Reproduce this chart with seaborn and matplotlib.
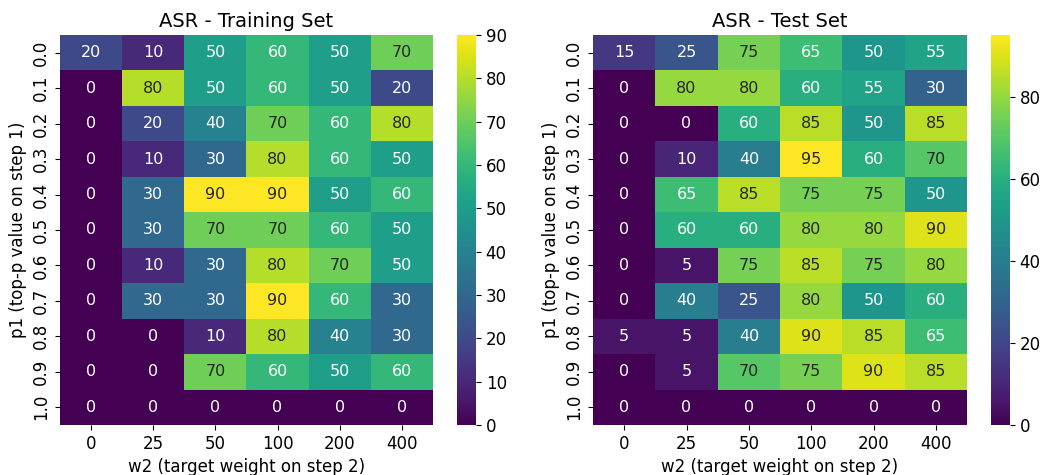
import numpy as np
import pandas as pd
import matplotlib
matplotlib.use("Agg")
import matplotlib.pyplot as plt
import seaborn as sns

# axis categories
p1_values = ["0.0", "0.1", "0.2", "0.3", "0.4", "0.5", "0.6", "0.7", "0.8", "0.9", "1.0"]
w2_values = ["0", "25", "50", "100", "200", "400"]

# ASR values (%)
asr_train = [
    [20, 10, 50, 60, 50, 70],
    [0, 80, 50, 60, 50, 20],
    [0, 20, 40, 70, 60, 80],
    [0, 10, 30, 80, 60, 50],
    [0, 30, 90, 90, 50, 60],
    [0, 30, 70, 70, 60, 50],
    [0, 10, 30, 80, 70, 50],
    [0, 30, 30, 90, 60, 30],
    [0, 0, 10, 80, 40, 30],
    [0, 0, 70, 60, 50, 60],
    [0, 0, 0, 0, 0, 0],
]
asr_test = [
    [15, 25, 75, 65, 50, 55],
    [0, 80, 80, 60, 55, 30],
    [0, 0, 60, 85, 50, 85],
    [0, 10, 40, 95, 60, 70],
    [0, 65, 85, 75, 75, 50],
    [0, 60, 60, 80, 80, 90],
    [0, 5, 75, 85, 75, 80],
    [0, 40, 25, 80, 50, 60],
    [5, 5, 40, 90, 85, 65],
    [0, 5, 70, 75, 90, 85],
    [0, 0, 0, 0, 0, 0],
]

plt.rcParams["font.family"] = "DejaVu Sans"

fig = plt.figure(figsize=(10.43, 4.75), dpi=100)
ax1 = fig.add_axes([0.0575, 0.1053, 0.3576, 0.821])
cb1 = fig.add_axes([0.4382, 0.1053, 0.0182, 0.821])
ax2 = fig.add_axes([0.5686, 0.1053, 0.3586, 0.821])
cb2 = fig.add_axes([0.9501, 0.1053, 0.0182, 0.821])

for ax, cax, data, title in [
    (ax1, cb1, asr_train, "ASR - Training Set"),
    (ax2, cb2, asr_test, "ASR - Test Set"),
]:
    df = pd.DataFrame(data, index=p1_values, columns=w2_values)
    sns.heatmap(df, ax=ax, cbar_ax=cax, cmap="viridis", annot=True, fmt="d",
                annot_kws={"fontsize": 11.5})
    ax.set_title(title, fontsize=14)
    ax.set_xlabel("w2 (target weight on step 2)", fontsize=12)
    ax.set_ylabel("p1 (top-p value on step 1)", fontsize=12)
    ax.tick_params(axis="both", labelsize=12)
    ax.set_yticklabels(p1_values, rotation=90, va="center")
    ax.set_xticklabels(w2_values, rotation=0)
    cax.tick_params(labelsize=12)

plt.savefig("out.png")
